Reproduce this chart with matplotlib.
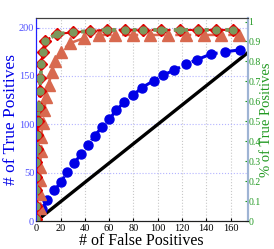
import numpy as np
import matplotlib
matplotlib.use('Agg')
import matplotlib.pyplot as plt

plt.rcParams['font.family'] = ['Liberation Serif', 'DejaVu Serif']

# blue curve (dots)
blue_fp = [0, 5, 9, 15, 20.5, 25.5, 31, 37, 42.5, 48, 54, 60, 66, 72.5, 80,
           87, 96.5, 104.5, 113.5, 123, 132.5, 143.5, 155, 168]
blue_tp = [1, 13, 21.5, 32, 40.5, 51, 60, 69, 78.5, 88, 97, 105.5, 114.5, 123.5, 130.5,
           138, 145, 151, 156, 162, 167, 172.5, 175, 177]

# red diamonds / green circles
red_fp = [0, 0, 0, 0, 0.2, 0.5, 0.8, 1.3, 2, 2.7, 3.5, 4.3, 5.2, 7.4, 17, 30.5, 44,
          58, 73, 88, 103, 118, 133, 148, 162]
red_tp = [2.5, 16, 32, 45.5, 61, 75, 89, 103, 118, 134, 148, 162, 175, 186.5, 193.5, 195,
          196.6, 197.6, 197.6, 197.6, 197.6, 197.6, 197.6, 197.6, 197.6]
green_fp = red_fp
green_tp = red_tp

# triangles
tri_fp = [2, 3, 3.3, 3.3, 3.5, 3.7, 4.1, 5.2, 6.6, 8.2, 10.2, 12.8, 15.7, 20, 28, 39,
          51.5, 65, 79.5, 94, 108.5, 123, 138, 152, 167]
tri_tp = [0, 14, 28, 42, 56, 72, 87, 101, 114.7, 128.5, 141, 154, 165.5, 175, 184, 189,
          192.4, 192.4, 192.4, 192.4, 192.4, 192.4, 192.4, 192.4, 192.4]

diag = [0, 174]

x_ticks = [0, 20, 40, 60, 80, 100, 120, 140, 160]
y_ticks = [0, 50, 100, 150, 200]
r_ticks = [0, 0.1, 0.2, 0.3, 0.4, 0.5, 0.6, 0.7, 0.8, 0.9, 1]
r_labels = ['0', '0.1', '0.2', '0.3', '0.4', '0.5', '0.6', '0.7', '0.8', '0.9', '1']

fig = plt.figure(figsize=(2.74, 2.49), dpi=100)
ax = fig.add_axes([0.13, 0.112, 0.774, 0.816])

ax.plot(diag, diag, color='black', lw=2.4, zorder=2)
ax.plot(blue_fp, blue_tp, color='#0000e6', ls='-.', lw=2.2, marker='o', ms=6.5, zorder=3)
ax.plot(tri_fp, tri_tp, color='#d8694f', ls='-.', lw=1.8, marker='^', ms=8, zorder=4)
ax.plot(red_fp, red_tp, color='#e00000', ls='--', lw=1.5, marker='D', ms=6.5,
        mfc='#e00000', mec='#e00000', zorder=5)
ax.plot(green_fp, green_tp, color='#7c985c', ls=':', lw=2.8, marker='o', ms=5,
        mfc='#7c985c', mec='#7c985c', zorder=6)

ax.set_xlim(-0.5, 174)
ax.set_ylim(0, 210)
ax.set_xticks(x_ticks)
ax.set_yticks(y_ticks)
ax.tick_params(axis='x', direction='in', labelsize=7.5, length=2, pad=2)
ax.tick_params(axis='y', direction='in', labelsize=7.5, length=2, pad=1,
               colors='#5050ff')
ax.grid(axis='x', color='#c8c8c8', ls=':', lw=0.8)
ax.grid(axis='y', color='#b4b4ff', ls=':', lw=0.8)
ax.set_axisbelow(True)

ax.set_xlabel('# of False Positives', fontsize=11.5, labelpad=0)
ax.set_ylabel('# of True Positives', fontsize=12.5, color='#0000e6', labelpad=0)

ax2 = ax.twinx()
ax2.set_ylim(0, 1.018)
ax2.set_yticks(r_ticks)
ax2.set_yticklabels(r_labels)
ax2.tick_params(axis='y', direction='in', labelsize=7, length=2, pad=0.5,
                colors='#229922')
ax2.set_ylabel('% of True Positives', fontsize=10.5, color='#229922',
               va='center', ha='center')
ax2.yaxis.set_label_coords(1.088, 0.5)

for a in (ax, ax2):
    a.spines['left'].set_color('#2020ff')
    a.spines['right'].set_color('#9fb4d4')
    a.spines['right'].set_linewidth(1.5)
    a.spines['top'].set_color('#404040')
    a.spines['bottom'].set_color('#202020')

fig.savefig('out.png', dpi=100)
